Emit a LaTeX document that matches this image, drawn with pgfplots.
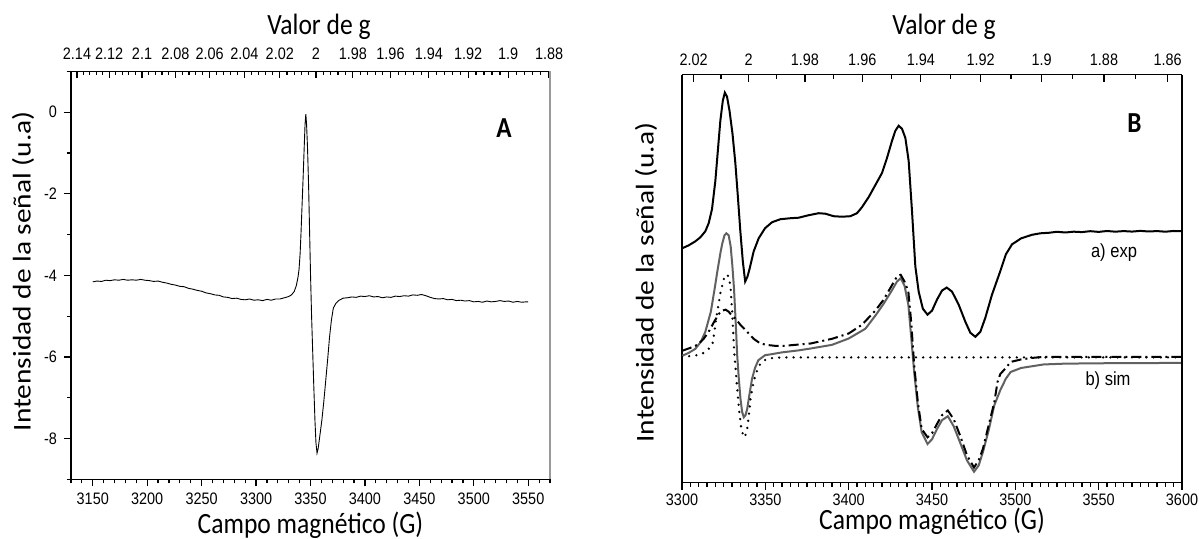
\documentclass[border=0pt]{standalone}
\usepackage{fontspec}
\setmainfont{Carlito}
\newfontfamily\tickfont[FakeStretch=0.87]{Liberation Sans}
\newfontfamily\labfont[FakeStretch=0.87]{Carlito}
\newfontfamily\arialfont[FakeStretch=0.87]{Liberation Sans}
\usepackage{pgfplots}
\pgfplotsset{compat=1.18}
\newcommand\tlf{\tickfont\fontsize{8.3}{9.5}\selectfont}
\newcommand\lbf{\labfont\fontsize{14.7}{16}\selectfont}
\newcommand\ylbf{\fontsize{14.7}{16}\selectfont}
\pgfplotsset{
  base/.style={scale only axis,
    /pgf/number format/assume math mode=true,
    /pgf/number format/1000 sep={},
    tick label style={font=\tlf},
    major tick length=3.5pt, minor tick length=2pt,
    tick style={black, line width=0.6pt},
    axis line style={-, line width=0.8pt},
  },
}
\begin{document}
\begin{tikzpicture}
\useasboundingbox (0,0) rectangle (599.5pt,-269pt);
% ---------------- Panel A ----------------
\begin{axis}[base, at={(35.5pt,-239.65pt)}, anchor=south west, width=239.5pt, height=204pt,
  xmin=3130, xmax=3570, ymin=-9, ymax=1,
  axis x line*=bottom, axis y line*=left, tick align=outside,
  xtick={3150,3200,...,3550}, minor xtick={3130,3140,...,3570},
  ytick={-8,-6,-4,-2,0}, minor ytick={-9,-7,-5,-3,-1,1},
  xlabel={Campo magnético (G)}, ylabel={\scalebox{1}[0.87]{Intensidad de la señal (u.a)}},
  xlabel style={at={([yshift=-22.8pt]axis description cs:0.5,0)}, anchor=center, font=\lbf},
  ylabel style={at={([xshift=-24pt,yshift=2pt]axis description cs:0,0.5)}, anchor=center, font=\ylbf},
]
\addplot[black, line width=0.45pt] table {
3150 -4.16
3154 -4.14
3158 -4.15
3162 -4.12
3166 -4.13
3170 -4.11
3174 -4.12
3178 -4.10
3182 -4.12
3186 -4.11
3190 -4.12
3194 -4.10
3198 -4.12
3202 -4.13
3206 -4.15
3210 -4.14
3214 -4.17
3218 -4.19
3222 -4.22
3226 -4.24
3230 -4.27
3234 -4.28
3238 -4.32
3242 -4.34
3246 -4.37
3250 -4.39
3254 -4.43
3258 -4.45
3262 -4.48
3266 -4.49
3270 -4.53
3274 -4.54
3278 -4.57
3282 -4.56
3286 -4.59
3290 -4.60
3294 -4.58
3298 -4.61
3302 -4.60
3306 -4.62
3310 -4.59
3314 -4.61
3318 -4.58
3322 -4.58
3326 -4.55
3330 -4.52
3332.5 -4.48
3335 -4.40
3337 -4.25
3338.5 -4.05
3339.5 -3.85
3340.5 -3.45
3341.3 -2.95
3342.3 -2.25
3343.3 -1.55
3344.3 -0.80
3345.0 -0.30
3345.7 -0.05
3346.4 -0.30
3347.3 -0.90
3348.3 -1.85
3349.2 -2.97
3350.0 -3.95
3351.0 -5.00
3352.0 -5.85
3353.0 -6.70
3354.1 -7.56
3355.0 -8.10
3356.0 -8.36
3357.0 -8.25
3358.5 -7.95
3360.4 -7.56
3362.2 -7.10
3364.0 -6.58
3365.8 -6.05
3367.5 -5.51
3369.2 -5.10
3371 -4.80
3373.5 -4.68
3376.3 -4.61
3380 -4.56
3384 -4.55
3388 -4.53
3392 -4.54
3396 -4.51
3400 -4.52
3404 -4.50
3408 -4.53
3412 -4.52
3416 -4.55
3420 -4.53
3424 -4.54
3428 -4.51
3432 -4.52
3436 -4.50
3440 -4.51
3444 -4.48
3448 -4.49
3452 -4.47
3456 -4.50
3460 -4.54
3464 -4.57
3468 -4.58
3472 -4.57
3476 -4.60
3480 -4.59
3484 -4.62
3488 -4.61
3492 -4.63
3496 -4.62
3500 -4.65
3504 -4.64
3508 -4.66
3512 -4.63
3516 -4.65
3520 -4.64
3524 -4.62
3528 -4.64
3532 -4.63
3536 -4.66
3540 -4.64
3544 -4.66
3548 -4.65
3550 -4.65
};
\node[font=\labfont\bfseries\fontsize{14.5}{16}\selectfont] at (rel axis cs:0.904,0.861) {A};
\end{axis}
\begin{axis}[base, at={(35.5pt,-239.65pt)}, anchor=south west, width=239.5pt, height=204pt,
  xmin=3130, xmax=3570, ymin=-9, ymax=1,
  axis x line*=top, axis y line*=right, tick align=inside,
  x axis line style={-, black}, y axis line style={-, black!40},
  ytick=\empty,
  xtick={3135.51,3165.09,3195.24,3225.96,3257.28,3289.22,3321.78,3355.00,3388.89,3423.47,3458.76,3494.79,3531.58,3569.15},
  xticklabels={2.14,2.12,2.1,2.08,2.06,2.04,2.02,2,1.98,1.96,1.94,1.92,1.9,1.88},
  minor xtick={3141.39,3147.28,3153.20,3159.13,3171.08,3177.08,3183.11,3189.16,3201.34,3207.46,3213.60,3219.77,3232.18,3238.42,3244.68,3250.97,3263.62,3269.98,3276.37,3282.78,3295.68,3302.17,3308.68,3315.22,3328.37,3334.99,3341.63,3348.30,3361.72,3368.47,3375.25,3382.06,3395.75,3402.64,3409.55,3416.50,3430.47,3437.50,3444.56,3451.65,3465.91,3473.08,3480.29,3487.53,3502.09,3509.41,3516.77,3524.16,3539.03,3546.51,3554.03,3561.57},
  xticklabel style={yshift=2.5pt},
  xlabel={Valor de g},
  xlabel style={at={([xshift=4.25pt,yshift=22.3pt]axis description cs:0.5,1)}, anchor=center, font=\lbf},
]
\end{axis}
% ---------------- Panel B ----------------
\begin{axis}[base, at={(341pt,-241.25pt)}, anchor=south west, width=250pt, height=204pt,
  xmin=3300, xmax=3600, ymin=0, ymax=406,
  axis x line*=bottom, axis y line*=left, tick align=outside,
  ytick=\empty,
  xtick={3300,3350,...,3600}, minor xtick={3300,3305,...,3600},
  xticklabel style={yshift=1.5pt},
  xlabel={Campo magnético (G)}, ylabel={\scalebox{1}[0.87]{Intensidad de la señal (u.a)}},
  xlabel style={at={([yshift=-19.3pt]axis description cs:0.5,0)}, anchor=center, font=\lbf},
  ylabel style={at={([xshift=-18pt,yshift=-2pt]axis description cs:0,0.5)}, anchor=center, font=\ylbf},
]
% a) exp
\addplot[black, line width=1pt] table {
3300 233
3304 236
3308 240
3311 244
3314 250
3316 258
3318 272
3320 300
3321.5 330
3323 360
3324.5 380
3325.7 388
3327 384
3328.5 370
3330.3 347
3332 318
3333.5 285
3335 250
3336.5 220
3337.9 200
3339.3 205
3340.6 213
3343 230
3346 243
3349.8 253
3354 259
3359 262
3365 263
3370 263.5
3376 266
3382 268
3386 267.5
3391 265
3396 264.5
3401 265
3405 268
3408 274
3412 284
3416 296
3420 308
3423 323
3426 340
3428 350
3430 355
3432 352
3434 343
3436 320
3438 270
3440 215
3442 190
3444.5 173
3447.3 167
3450 171
3453 182
3456 191
3458.8 194
3462 190
3466 177
3470 160
3473 149
3476 145
3479 150
3482 164
3486 187
3490.9 210
3494.3 227
3498 237
3503.5 243
3510 246.5
3515 248
3520 248.5
3525 249.5
3530 248.8
3535 249.6
3540 249.2
3545 250.1
3550 249.4
3555 250.3
3560 249.6
3565 250.2
3570 249.7
3575 250.4
3580 249.8
3585 250.2
3590 249.6
3595 250.3
3600 250
};
% b) sim total (grey)
\addplot[black!62, line width=1pt] table {
3300 126
3304 129
3308 133
3311.3 140
3314 150
3317.3 170
3319.5 192
3321.2 210
3323 228
3324.2 238
3325.5 246
3326.6 248
3328 246
3329.2 235
3330.2 216
3331.2 193
3332.2 160
3333.1 127
3334.1 103
3335.1 83
3336.1 70
3337.1 65
3338.1 67
3339.1 73
3340.5 88
3342 103
3343.8 114
3345.8 121.7
3349.8 126.7
3353 127.5
3360 129.5
3370 131.5
3377 133.3
3390 137
3400 143.3
3410 153
3416.3 166.7
3421 178
3425.5 190
3429 200
3431.2 203.3
3433.5 196
3435.8 177
3437.5 145
3439.3 110
3441.5 75
3443.8 50
3447.3 38.3
3450 43
3453 53.3
3456 62
3459.5 66
3463 56
3466.8 40
3471 22
3475.2 10.7
3478 17
3480.5 30
3484 52
3487.4 77
3491 92
3494.3 103.3
3497.2 110
3503.5 114
3517 117.5
3530 118.3
3560 118.8
3600 119
};
% dotted component
\addplot[black, line width=1.3pt, line cap=round, dash pattern=on 0pt off 3.6pt] table {
3300 125
3306 126
3310 127
3313 129
3316 133
3318.3 138
3319.5 150
3320.2 160
3321.7 175
3323.2 190
3325.2 203
3327.2 207
3328.3 203
3329.2 193
3330.2 167
3331.2 133
3332.8 100
3334.2 73
3335.6 53
3337.1 45
3338.3 48
3339.1 53
3340.2 68
3341.1 83
3342.5 96
3344 107
3345.5 113
3347 118
3349 121
3351 123
3355 124
3360 124.5
3600 124.5
};
% dash-dot component
\addplot[black, line width=1pt, dash pattern=on 5pt off 2pt on 1pt off 2pt] table {
3300 131
3305 134
3309.3 137
3313 143
3316 150
3319.3 160
3322.2 168
3324 171
3326.2 172
3328 170
3330 166
3332.1 163
3335 157
3339.1 150
3343 143
3347 138.3
3352 136.7
3356 136
3361 136
3368 137
3377 138.3
3390 143
3400 148.3
3408 157
3416.3 171.7
3421 182
3425.5 195
3429 205
3431.2 206.7
3433.5 200
3435.8 190
3437.5 160
3439.3 117
3441.5 80
3443.8 53.3
3447.3 45
3450 49
3453 58.3
3456 67
3459.5 71.7
3463 63
3466.8 47
3471 27
3475.2 15
3478 22
3480.5 33.3
3484 57
3487.4 80
3489.3 100
3491 108
3494.3 114
3497.2 120
3503.5 122.5
3510 124
3517 125
3600 125
};
\node[font=\labfont\bfseries\fontsize{14.5}{16}\selectfont] at (rel axis cs:0.905,0.881) {B};
\node[font=\arialfont\fontsize{9.5}{11}\selectfont] at (rel axis cs:0.864,0.5625) {a) exp};
\node[font=\arialfont\fontsize{9.5}{11}\selectfont] at (rel axis cs:0.852,0.249) {b) sim};
\end{axis}
\begin{axis}[base, at={(341pt,-241.25pt)}, anchor=south west, width=250pt, height=204pt,
  xmin=3300, xmax=3600, ymin=0, ymax=406,
  axis x line*=top, axis y line*=right, tick align=inside,
  x axis line style={-, black}, y axis line style={-, black},
  ytick=\empty,
  xtick={3306.93,3340.00,3373.74,3408.16,3443.30,3479.17,3515.79,3553.19,3591.40},
  xticklabels={2.02,2,1.98,1.96,1.94,1.92,1.9,1.88,1.86},
  minor xtick={3323.38,3356.78,3390.86,3425.64,3461.14,3497.38,3534.39,3572.19},
  xticklabel style={yshift=1pt},
  xlabel={Valor de g},
  xlabel style={at={([xshift=6pt,yshift=23.6pt]axis description cs:0.5,1)}, anchor=center, font=\lbf},
]
\end{axis}
\end{tikzpicture}
\end{document}
